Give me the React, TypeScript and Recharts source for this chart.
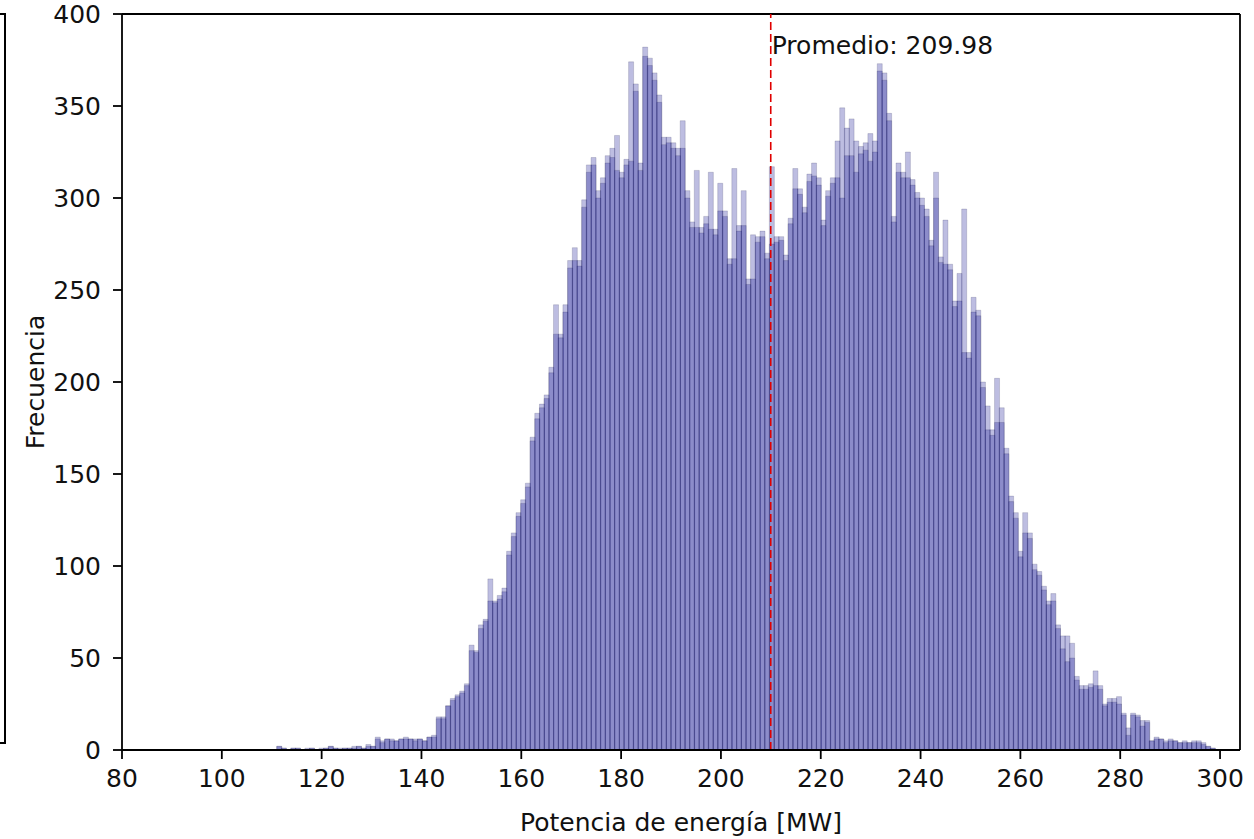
import React from 'react';
import { BarChart, Bar, XAxis, YAxis, ReferenceLine } from 'recharts';

// Histogram bins (200 bins of equal width)
const binStart = 111.0;
const binWidth = 0.94;

// Two overlaid histogram series (counts per bin)
const serieA = [
  2, 1, 0, 1, 1, 0, 1, 1, 0, 1,
  1, 2, 1, 1, 1, 1, 2, 2, 1, 3,
  2, 7, 5, 6, 6, 5, 6, 7, 6, 6,
  6, 5, 7, 8, 18, 18, 24, 28, 30, 32,
  36, 57, 54, 68, 71, 93, 81, 84, 88, 108,
  118, 129, 136, 145, 170, 183, 188, 193, 208, 242,
  226, 242, 266, 273, 266, 299, 318, 322, 304, 311,
  323, 327, 334, 314, 321, 374, 362, 319, 382, 376,
  368, 356, 333, 333, 330, 327, 342, 304, 287, 315,
  284, 290, 314, 283, 308, 293, 267, 316, 285, 304,
  256, 280, 279, 282, 270, 317, 279, 279, 269, 289,
  316, 305, 295, 313, 319, 311, 288, 304, 311, 331,
  349, 338, 343, 331, 328, 330, 335, 331, 373, 368,
  346, 290, 319, 314, 325, 310, 303, 300, 294, 277,
  314, 268, 288, 264, 244, 259, 294, 216, 246, 239,
  200, 187, 174, 202, 186, 164, 138, 129, 108, 129,
  118, 101, 97, 89, 81, 85, 68, 62, 62, 58,
  40, 35, 35, 36, 43, 35, 25, 28, 28, 29,
  20, 12, 20, 19, 16, 16, 5, 7, 6, 5,
  6, 5, 4, 5, 4, 5, 5, 4, 2, 1,
];

const serieB = [
  2, 1, 0, 1, 1, 0, 0, 1, 0, 0,
  1, 2, 1, 0, 1, 1, 1, 2, 1, 2,
  2, 6, 4, 6, 5, 5, 6, 6, 6, 5,
  6, 5, 7, 7, 17, 17, 24, 27, 29, 31,
  35, 54, 53, 66, 70, 81, 80, 82, 86, 106,
  116, 127, 134, 143, 168, 180, 186, 191, 205, 226,
  224, 238, 262, 266, 263, 295, 314, 318, 300, 308,
  319, 322, 315, 311, 318, 320, 358, 315, 377, 372,
  364, 352, 329, 330, 327, 323, 327, 300, 284, 284,
  281, 286, 283, 280, 293, 290, 264, 267, 282, 285,
  253, 256, 276, 279, 267, 275, 276, 277, 266, 286,
  305, 302, 292, 309, 312, 307, 285, 301, 308, 311,
  300, 323, 323, 314, 324, 326, 320, 325, 369, 364,
  342, 287, 314, 311, 311, 307, 300, 296, 290, 274,
  300, 265, 264, 261, 241, 244, 216, 213, 238, 236,
  197, 174, 171, 178, 178, 161, 135, 126, 105, 118,
  115, 98, 95, 87, 79, 81, 66, 55, 48, 50,
  38, 33, 33, 34, 35, 33, 24, 26, 26, 25,
  19, 8, 19, 18, 13, 15, 5, 6, 6, 4,
  5, 5, 4, 4, 4, 4, 4, 3, 2, 1,
];

const meanValue = 209.98;
const xTicks = [80, 100, 120, 140, 160, 180, 200, 220, 240, 260, 280, 300];
const yTicks = [0, 50, 100, 150, 200, 250, 300, 350, 400];
const xDomain = [80, 304];
const yDomain = [0, 400];

const data = serieA.map((a, i) => ({
  x: binStart + binWidth * (i + 0.5),
  a,
  b: serieB[i],
}));

const FONT = '"DejaVu Sans", "Liberation Sans", sans-serif';
const TEXT = '#111';
const tickStyle = { fontSize: 25, fill: TEXT, fontFamily: FONT };

const MeanLabel = (props: any) => {
  const vb = props.viewBox || {};
  return (
    <text x={vb.x + 1} y={vb.y + 40} fontSize={25} fontFamily={FONT} fill={TEXT}>
      {`Promedio: ${meanValue.toFixed(2)}`}
    </text>
  );
};

const XLabel = (props: any) => {
  const vb = props.viewBox || {};
  return (
    <text x={vb.x + vb.width / 2} y={vb.y + 81} textAnchor="middle" fontSize={25} fontFamily={FONT} fill={TEXT}>
      Potencia de energía [MW]
    </text>
  );
};

const YLabel = (props: any) => {
  const vb = props.viewBox || {};
  const cx = 44;
  const cy = vb.y + vb.height / 2;
  return (
    <text x={cx} y={cy} transform={`rotate(-90 ${cx} ${cy})`} textAnchor="middle" fontSize={25} fontFamily={FONT} fill={TEXT}>
      Frecuencia
    </text>
  );
};

const spine = { stroke: '#000', strokeWidth: 1.8 };

export default function App() {
  return (
    <div style={{ position: 'absolute', left: 0, top: 0, width: 1254, height: 839, background: '#fff', fontFamily: FONT }}>
      <div
        style={{
          position: 'absolute',
          left: -4,
          top: 13,
          width: 8,
          height: 727,
          borderRight: '2px solid #000',
          borderTop: '2px solid #000',
          borderBottom: '2px solid #000',
        }}
      />
      <BarChart
        width={1254}
        height={839}
        data={data}
        margin={{ top: 14, right: 14, bottom: 0, left: 0 }}
        barCategoryGap={0}
        barGap={0}
      >
        <XAxis
          xAxisId="a"
          type="number"
          dataKey="x"
          domain={xDomain}
          ticks={xTicks}
          allowDataOverflow
          interval={0}
          height={89}
          tickSize={9}
          tickMargin={10}
          tick={tickStyle}
          axisLine={spine}
          tickLine={spine}
          label={<XLabel />}
        />
        <XAxis xAxisId="b" type="number" dataKey="x" domain={xDomain} allowDataOverflow hide />
        <YAxis
          type="number"
          domain={yDomain}
          ticks={yTicks}
          allowDataOverflow
          interval={0}
          width={122}
          tickSize={9}
          tickMargin={12}
          tick={tickStyle}
          axisLine={spine}
          tickLine={spine}
          label={<YLabel />}
        />
        <Bar
          xAxisId="a"
          dataKey="a"
          fill="#00008b"
          fillOpacity={0.26}
          stroke="#202050"
          strokeOpacity={0.2}
          strokeWidth={0.9}
          isAnimationActive={false}
        />
        <Bar
          xAxisId="b"
          dataKey="b"
          fill="#00008b"
          fillOpacity={0.26}
          stroke="#202050"
          strokeOpacity={0.2}
          strokeWidth={0.9}
          isAnimationActive={false}
        />
        <ReferenceLine xAxisId="a" y={400} stroke="#000" strokeWidth={1.8} />
        <ReferenceLine xAxisId="a" x={304} stroke="#000" strokeWidth={1.8} />
        <ReferenceLine
          xAxisId="a"
          x={meanValue}
          stroke="#e00000"
          strokeWidth={1.6}
          strokeDasharray="8 4"
          label={<MeanLabel />}
        />
      </BarChart>
    </div>
  );
}
